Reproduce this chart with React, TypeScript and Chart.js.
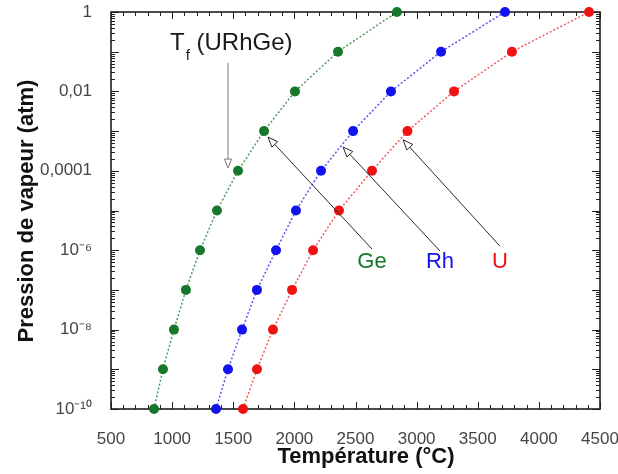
import React, { useEffect, useRef } from 'react';
import { Chart, registerables } from 'chart.js';

Chart.register(...registerables);

// ---- data ----
const pressures = [1e-10, 1e-9, 1e-8, 1e-7, 1e-6, 1e-5, 1e-4, 1e-3, 1e-2, 1e-1, 1];
const geTemps = [852, 925, 1015, 1113, 1228, 1367, 1539, 1752, 2005, 2357, 2839];
const rhTemps = [1359, 1457, 1572, 1694, 1850, 2013, 2218, 2480, 2790, 3200, 3723];
const uTemps = [1580, 1694, 1825, 1981, 2153, 2365, 2635, 2925, 3306, 3780, 4410];

const seriesNames = ['Ge', 'Rh', 'U'];
const seriesColors = ['#17782c', '#1212ee', '#ee1212'];
const lineColors = ['rgba(23,120,44,0.75)', 'rgba(18,18,238,0.7)', 'rgba(238,18,18,0.7)'];

const xTickValues = [500, 1000, 1500, 2000, 2500, 3000, 3500, 4000, 4500];
const yTickValues = [1e-10, 1e-8, 1e-6, 1e-4, 1e-2, 1];
const yTickLabels = ['10\u207B\u00B9\u2070', '10\u207B\u2078', '10\u207B\u2076', '0,0001', '0,01', '1'];

const xTitle = 'Température (°C)';
const yTitle = 'Pression de vapeur (atm)';

// annotation anchors (data coordinates)
const labelTemps = [2635, 3191, 3682];
const labelPressure = 5.0e-7;
const arrowTips = [[1784, 7.08e-4], [2398, 3.98e-4], [2889, 6.03e-4]];
const arrowTails = [[2635, 1.07e-6], [3191, 9.55e-7], [3682, 1.26e-6]];
const tfArrowTop = [1457, 0.0525];
const tfArrowTip = [1457, 1.17e-4];
const tfTextAnchor = [983, 0.11];

const FONT = '"Liberation Sans", Arial, Helvetica, sans-serif';

function drawOpenHead(ctx: CanvasRenderingContext2D, tx: number, ty: number, fx: number, fy: number, len: number, half: number) {
  const dx = tx - fx;
  const dy = ty - fy;
  const d = Math.hypot(dx, dy) || 1;
  const ux = dx / d;
  const uy = dy / d;
  const bx = tx - ux * len;
  const by = ty - uy * len;
  const px = -uy;
  const py = ux;
  ctx.beginPath();
  ctx.moveTo(tx, ty);
  ctx.lineTo(bx + px * half, by + py * half);
  ctx.lineTo(bx - px * half, by - py * half);
  ctx.closePath();
  ctx.fillStyle = '#ffffff';
  ctx.fill();
  ctx.stroke();
  return [bx, by];
}

const decorPlugin = {
  id: 'decor',
  beforeDatasetsDraw(chart: any) {
    const { ctx, chartArea: a, scales } = chart;
    const xs = scales.x;
    const ys = scales.y;
    ctx.save();
    ctx.strokeStyle = '#222';
    ctx.lineWidth = 1;
    // x ticks (bottom and top), major every 500, minor every 100
    for (let v = 500; v <= 4500; v += 100) {
      const px = Math.round(xs.getPixelForValue(v)) + 0.5;
      const len = v % 500 === 0 ? 7 : 4;
      ctx.beginPath();
      ctx.moveTo(px, a.bottom);
      ctx.lineTo(px, a.bottom - len);
      ctx.moveTo(px, a.top);
      ctx.lineTo(px, a.top + len);
      ctx.stroke();
    }
    // y ticks (left and right), log
    for (let e = -10; e <= 0; e++) {
      for (let m = 1; m <= 9; m++) {
        if (e === 0 && m > 1) break;
        const v = m * Math.pow(10, e);
        const py = Math.round(ys.getPixelForValue(v)) + 0.5;
        const len = m === 1 ? 8 : 4;
        ctx.beginPath();
        ctx.moveTo(a.left, py);
        ctx.lineTo(a.left + len, py);
        ctx.moveTo(a.right, py);
        ctx.lineTo(a.right - len, py);
        ctx.stroke();
      }
    }
    // frame
    ctx.lineWidth = 1.6;
    ctx.strokeStyle = '#1e1e1e';
    ctx.strokeRect(a.left, a.top, a.right - a.left, a.bottom - a.top);
    ctx.restore();
  },
  afterDatasetsDraw(chart: any) {
    const { ctx, scales } = chart;
    const xs = scales.x;
    const ys = scales.y;
    const X = (v: number) => xs.getPixelForValue(v);
    const Y = (v: number) => ys.getPixelForValue(v);
    ctx.save();
    // arrows from labels
    ctx.strokeStyle = '#2a2a2a';
    ctx.lineWidth = 1;
    for (let i = 0; i < 3; i++) {
      const tx = X(arrowTips[i][0]);
      const ty = Y(arrowTips[i][1]);
      const fx = X(arrowTails[i][0]);
      const fy = Y(arrowTails[i][1]);
      const [bx, by] = drawOpenHead(ctx, tx, ty, fx, fy, 10, 4);
      ctx.beginPath();
      ctx.moveTo(fx, fy);
      ctx.lineTo(bx, by);
      ctx.stroke();
    }
    // Tf arrow
    ctx.strokeStyle = '#7a7a7a';
    {
      const tx = X(tfArrowTip[0]);
      const ty = Y(tfArrowTip[1]);
      const fx = X(tfArrowTop[0]);
      const fy = Y(tfArrowTop[1]);
      const [bx, by] = drawOpenHead(ctx, tx, ty, fx, fy, 9, 3.5);
      ctx.beginPath();
      ctx.moveTo(fx, fy);
      ctx.lineTo(bx, by);
      ctx.stroke();
    }
    // series labels
    ctx.font = `22px ${FONT}`;
    ctx.textAlign = 'center';
    ctx.textBaseline = 'middle';
    for (let i = 0; i < 3; i++) {
      ctx.fillStyle = seriesColors[i];
      ctx.fillText(seriesNames[i], X(labelTemps[i]), Y(labelPressure));
    }
    // Tf (URhGe)
    ctx.fillStyle = '#1a1a1a';
    ctx.textAlign = 'left';
    ctx.textBaseline = 'alphabetic';
    let tx = X(tfTextAnchor[0]);
    const ty = Y(tfTextAnchor[1]);
    ctx.font = `24px ${FONT}`;
    ctx.fillText('T', tx, ty);
    tx += ctx.measureText('T').width + 1;
    ctx.font = `15px ${FONT}`;
    ctx.fillText('f', tx, ty + 10);
    tx += ctx.measureText('f').width;
    ctx.font = `24px ${FONT}`;
    ctx.fillText(' (URhGe)', tx, ty);
    // axis titles
    ctx.fillStyle = '#111';
    ctx.font = `bold 22px ${FONT}`;
    ctx.textAlign = 'center';
    ctx.fillText(xTitle, 366, 463);
    ctx.save();
    ctx.translate(33, 211);
    ctx.rotate(-Math.PI / 2);
    ctx.fillText(yTitle, 0, 0);
    ctx.restore();
    ctx.restore();
  },
};

export default function App() {
  const canvasRef = useRef<HTMLCanvasElement | null>(null);

  useEffect(() => {
    const canvas = canvasRef.current;
    if (!canvas) return;
    const temps = [geTemps, rhTemps, uTemps];
    const chart = new Chart(canvas, {
      type: 'line',
      data: {
        datasets: temps.map((arr, i) => ({
          label: seriesNames[i],
          data: arr.map((t, j) => ({ x: t, y: pressures[j] })),
          borderColor: lineColors[i],
          backgroundColor: seriesColors[i],
          pointBackgroundColor: seriesColors[i],
          pointBorderColor: seriesColors[i],
          pointRadius: 5,
          pointBorderWidth: 0,
          borderWidth: 1.5,
          borderDash: [2, 2],
          tension: 0,
          fill: false,
          clip: false,
        })),
      },
      options: {
        animation: false,
        responsive: false,
        devicePixelRatio: 1,
        layout: { padding: { top: 12, right: 18, left: 0, bottom: 0 } },
        plugins: { legend: { display: false }, tooltip: { enabled: false }, title: { display: false } },
        scales: {
          x: {
            type: 'linear',
            min: 500,
            max: 4500,
            grid: { display: false },
            border: { display: false },
            afterBuildTicks: (s: any) => {
              s.ticks = xTickValues.map((v) => ({ value: v }));
            },
            afterFit: (s: any) => {
              s.height = 65;
              s.paddingLeft = 0;
              s.paddingRight = 0;
            },
            ticks: {
              autoSkip: false,
              maxRotation: 0,
              padding: 12,
              color: '#454545',
              font: { family: FONT, size: 17 },
              callback: (v: any) => String(v),
            },
          },
          y: {
            type: 'logarithmic',
            min: 1e-10,
            max: 1,
            grid: { display: false },
            border: { display: false },
            afterBuildTicks: (s: any) => {
              s.ticks = yTickValues.map((v) => ({ value: v }));
            },
            afterFit: (s: any) => {
              s.width = 111;
              s.paddingTop = 0;
              s.paddingBottom = 0;
            },
            ticks: {
              autoSkip: false,
              padding: 11,
              color: '#454545',
              font: { family: FONT, size: 17 },
              callback: (_v: any, i: number) => yTickLabels[i],
            },
          },
        },
      },
      plugins: [decorPlugin],
    } as any);
    return () => chart.destroy();
  }, []);

  return (
    <div style={{ position: 'fixed', left: 0, top: 0, width: 618, height: 474, background: '#fff' }}>
      <canvas ref={canvasRef} width={618} height={474} style={{ display: 'block', width: 618, height: 474 }} />
    </div>
  );
}
